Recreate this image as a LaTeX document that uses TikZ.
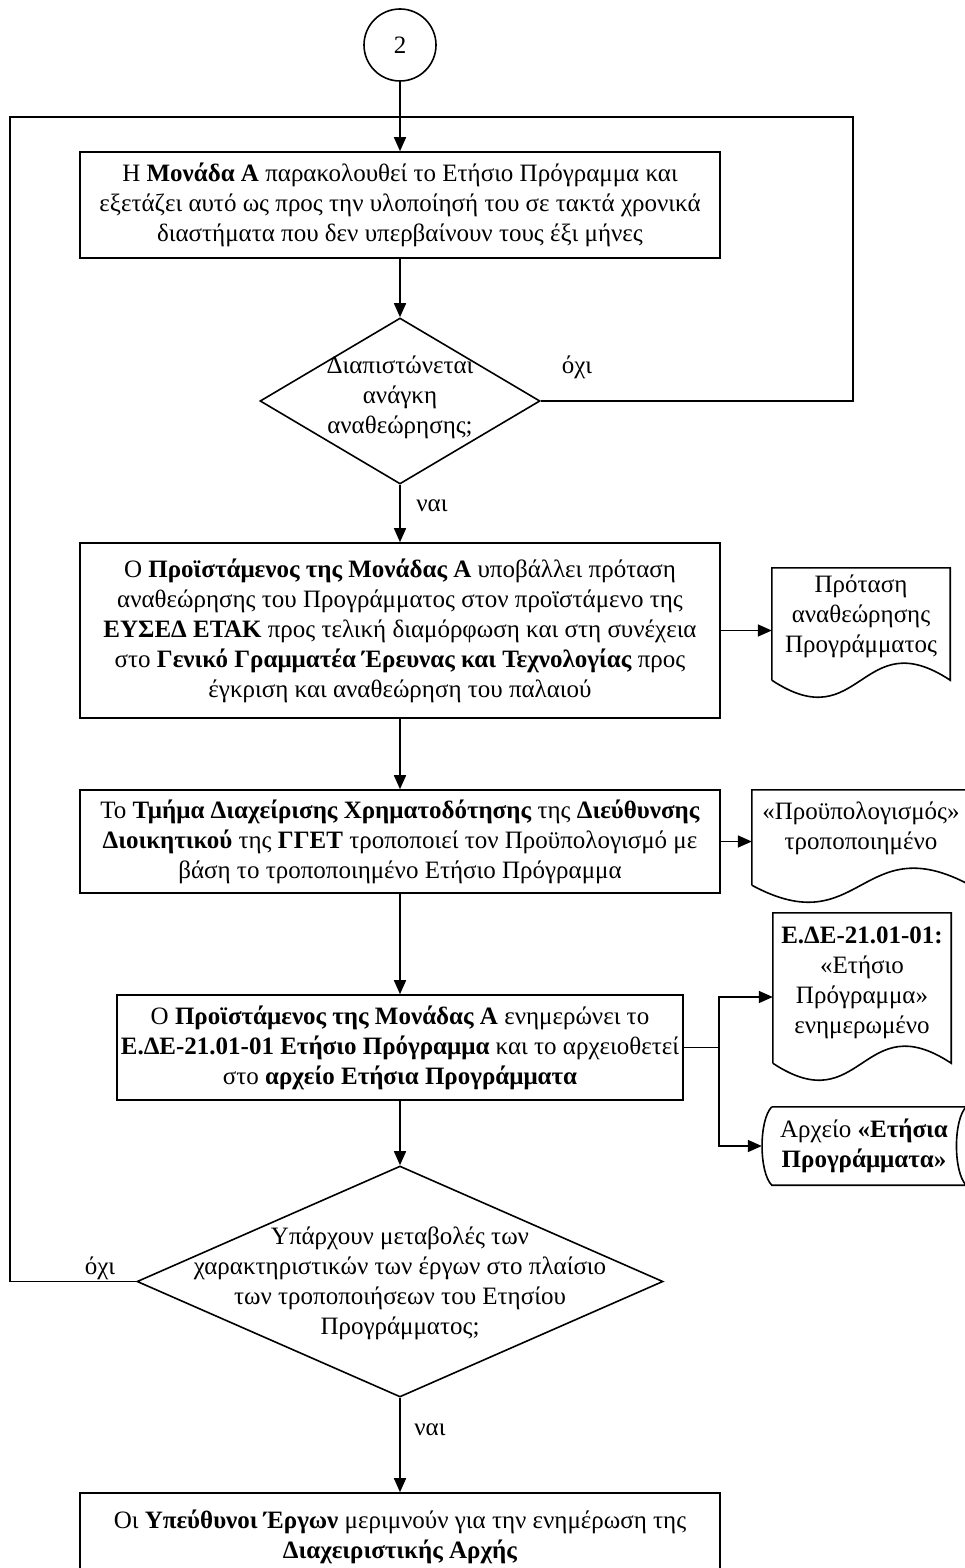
\documentclass[tikz,border=0pt]{standalone}
\usepackage{fontspec}
\setmainfont{Liberation Serif}
\usetikzlibrary{arrows.meta,shapes.geometric,calc}
\begin{document}
\begin{tikzpicture}[x=1pt,y=-1pt,
  line/.style={line width=1.6pt, line join=miter},
  flow/.style={line, -{Triangle[length=14pt,width=12pt]}},
  txt/.style={font=\fontsize{25}{30}\selectfont, align=center, inner sep=0pt},
  process/.style={txt, draw, line width=1.6pt, rectangle},
  decision/.style={draw, line width=1.6pt, diamond, inner sep=0pt},
  paper/.style={txt, rectangle},
  lbl/.style={font=\fontsize{25}{30}\selectfont, inner sep=0pt}
]
\useasboundingbox (0,0) rectangle (965,1568);
\clip (0,0) rectangle (965,1568);

% connector circle
\node[draw, line width=1.6pt, circle, minimum size=72pt, inner sep=0pt,
      font=\fontsize{25}{30}\selectfont] (c2) at (400,45) {2};

% process boxes
\node[process, minimum width=640pt, minimum height=106pt] (b1) at (400,205)
  {Η \textbf{Μονάδα Α} παρακολουθεί το Ετήσιο Πρόγραμμα και\\
   εξετάζει αυτό ως προς την υλοποίησή του σε τακτά χρονικά\\
   διαστήματα που δεν υπερβαίνουν τους έξι μήνες};

\node[decision, minimum width=280pt, minimum height=166pt] (d1) at (400,401) {};
\node[txt] (d1t) at (400,397) {Διαπιστώνεται\\ ανάγκη\\ αναθεώρησης;};

\node[process, minimum width=640pt, minimum height=175pt] (b2) at (400,630.5)
  {Ο \textbf{Προϊστάμενος της Μονάδας Α} υποβάλλει πρόταση\\
   αναθεώρησης του Προγράμματος στον προϊστάμενο της\\
   \textbf{ΕΥΣΕΔ ΕΤΑΚ} προς τελική διαμόρφωση και στη συνέχεια\\
   στο \textbf{Γενικό Γραμματέα Έρευνας και Τεχνολογίας} προς\\
   έγκριση και αναθεώρηση του παλαιού};

\node[process, minimum width=640pt, minimum height=103pt] (b3) at (400,841.5)
  {Το \textbf{Τμήμα Διαχείρισης Χρηματοδότησης} της \textbf{Διεύθυνσης}\\
   \textbf{Διοικητικού} της \textbf{ΓΓΕΤ} τροποποιεί τον Προϋπολογισμό με\\
   βάση το τροποποιημένο Ετήσιο Πρόγραμμα};

\node[process, minimum width=566pt, minimum height=105pt] (b4) at (400,1047.5)
  {Ο \textbf{Προϊστάμενος της Μονάδας Α} ενημερώνει το\\
   \textbf{Ε.ΔΕ-21.01-01 Ετήσιο Πρόγραμμα} και το αρχειοθετεί\\
   στο \textbf{αρχείο Ετήσια Προγράμματα}};

\node[decision, minimum width=526pt, minimum height=231pt] (d2) at (400,1281.5) {};
\node[txt] (d2t) at (400,1283)
  {Υπάρχουν μεταβολές των\\
   χαρακτηριστικών των έργων στο πλαίσιο\\
   των τροποποιήσεων του Ετησίου\\
   Προγράμματος;};

\node[process, minimum width=640pt, minimum height=88pt] (b5) at (400,1537)
  {Οι \textbf{Υπεύθυνοι Έργων} μεριμνούν για την ενημέρωση της\\
   \textbf{Διαχειριστικής Αρχής}};

% documents (text block; wavy lower edge drawn below it)
\node[paper, minimum width=178pt, minimum height=96pt] (p1) at (861,616)
  {Πρόταση\\ αναθεώρησης\\ Προγράμματος};
\node[paper, minimum width=218pt, minimum height=76pt] (p2) at (861,828)
  {«Προϋπολογισμός»\\ τροποποιημένο};
\node[paper, minimum width=178pt, minimum height=140pt] (p3) at (862,983)
  {\textbf{Ε.ΔΕ-21.01-01:}\\ «Ετήσιο\\ Πρόγραμμα»\\ ενημερωμένο};
\foreach \d/\off in {p1/16,p2/19,p3/10}{
  \draw[line] ($(\d.south west)+(0,\off)$) -- (\d.north west) -- (\d.north east)
    -- ($(\d.south east)+(0,\off)$)
    .. controls ($(\d.south)+(0,\off-59)$) and ($(\d.south)+(0,\off+59)$)
    .. ($(\d.south west)+(0,\off)$);
}

% stored data
\node[paper, minimum width=204pt, minimum height=78pt] (ar) at (864,1146)
  {Αρχείο \textbf{«Ετήσια}\\ \textbf{Προγράμματα»}};
\draw[line] ($(ar.north west)+(10,0)$) -- (ar.north east)
  .. controls ($(ar.north east)+(-13,13)$) and ($(ar.south east)+(-13,-13)$) .. (ar.south east)
  -- ($(ar.south west)+(10,0)$)
  .. controls ($(ar.south west)+(-3,-13)$) and ($(ar.north west)+(-3,13)$) .. ($(ar.north west)+(10,0)$);

% connectors
\coordinate (jn) at (400,117);
\coordinate (rtop) at (853,117);
\coordinate (ltop) at (10,117);
\coordinate (br) at ($(b4.east)+(35,0)$);

\draw[flow] (c2) -- (b1);
\draw[flow] (b1) -- (d1);
\draw[flow] (d1) -- (b2);
\draw[flow] (b2) -- (b3);
\draw[flow] (b3) -- (b4);
\draw[flow] (b4) -- (d2);
\draw[flow] (d2) -- (b5);

\draw[line] (d1.east) -| (rtop) -- (jn);
\draw[line] (d2.west) -| (ltop) -- (jn);

\draw[flow] (b2.east) -- (b2.east -| p1.west);
\draw[flow] (b3.east) -- (b3.east -| p2.west);
\draw[line] (b4.east) -- (br);
\draw[flow] (br) |- ($(p3.west)+(0,14)$);
\draw[flow] (br) |- (ar.west);

% branch labels
\node[lbl] (no1) at (577,367) {όχι};
\node[lbl] (yes1) at (432,506) {ναι};
\node[lbl] (no2) at (100,1268) {όχι};
\node[lbl] (yes2) at (430,1430) {ναι};
\end{tikzpicture}
\end{document}
